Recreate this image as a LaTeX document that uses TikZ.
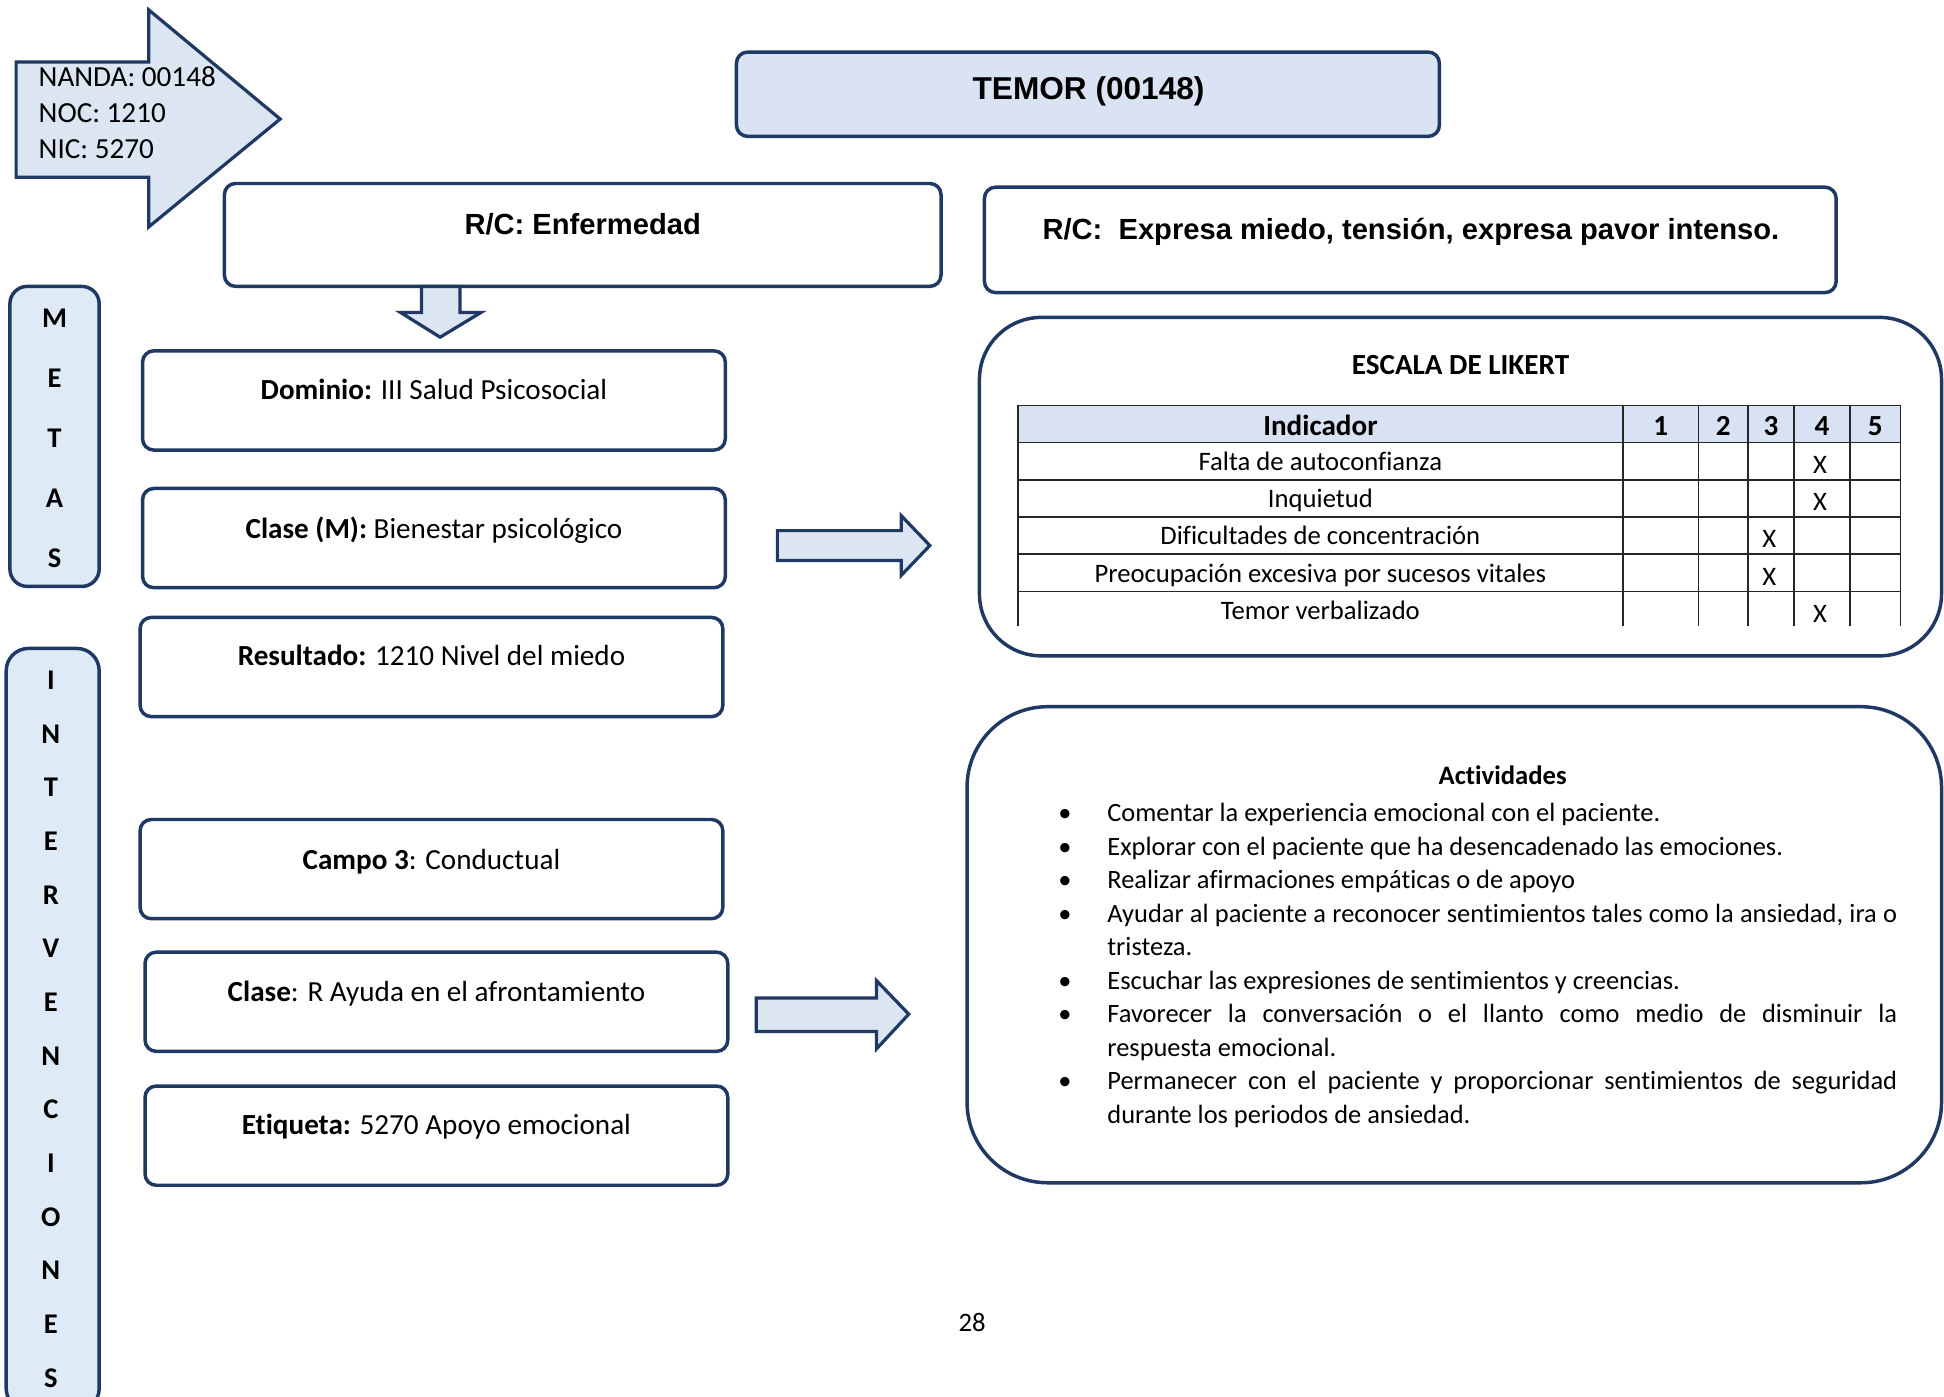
\documentclass[tikz,border=0pt]{standalone}
\usepackage{fontspec}
\setmainfont{Carlito}[Ligatures=CommonOff]
\newfontfamily\arialf{Liberation Sans}
\definecolor{navy}{RGB}{32,56,100}
\definecolor{lblue}{RGB}{218,227,243}
\definecolor{sblue}{RGB}{222,234,246}
\definecolor{ablue}{RGB}{220,230,242}
\definecolor{hblue}{RGB}{217,226,243}
\newcommand{\myitem}{\leavevmode\llap{\textbullet\hspace{29pt}}}
\begin{document}
\begin{tikzpicture}[x=1pt,y=-1pt,
  box/.style={draw=navy, line width=2.8pt, rounded corners=9pt, fill=white, inner sep=0pt},
  bigbox/.style={draw=navy, line width=2.8pt, rounded corners=55pt, fill=white, inner sep=0pt},
  side/.style={draw=navy, line width=2.8pt, rounded corners=14pt, fill=sblue, inner sep=0pt},
  barrow/.style={draw=navy, line width=2.6pt, fill=ablue, line join=miter},
  txt/.style={font=\fontsize{23.5}{28}\selectfont, inner sep=0pt, anchor=base},
  ar/.style={font=\arialf\bfseries\fontsize{23.5}{28}\selectfont, inner sep=0pt, anchor=base},
  vl/.style={font=\bfseries\fontsize{23}{28}\selectfont, inner sep=0pt, anchor=base},
  tb/.style={font=\fontsize{21.5}{26}\selectfont, inner sep=0pt, anchor=base},
  th/.style={font=\bfseries\fontsize{23.5}{28}\selectfont, inner sep=0pt, anchor=base},
  tl/.style={draw=black!85, line width=1.2pt}
]
\useasboundingbox (0,0) rectangle (1568,1126);

% NANDA arrow
\draw[barrow] (13,50) -- (120,50) -- (120,8) -- (226,96) -- (120,183) -- (120,143) -- (13,143) -- cycle;
\node[txt, anchor=base west] (nanda) at (31,70) {NANDA: 00148};
\node[txt, anchor=base west] (noc) at (31,99) {NOC: 1210};
\node[txt, anchor=base west] (nic) at (31,128) {NIC: 5270};

% TEMOR
\node[box, fill=lblue, minimum width=567pt, minimum height=68pt] (temor) at (877.5,76) {};
\node[ar, font=\arialf\bfseries\fontsize{25.5}{30}\selectfont] (temort) at (878,80) {TEMOR (00148)};

% R/C boxes
\node[box, minimum width=578pt, minimum height=83pt] (rce) at (470,189.5) {};
\node[ar] (rcet) at (470,189.5) {R/C: Enfermedad};
\node[box, minimum width=687pt, minimum height=85pt] (rcx) at (1137.5,193.5) {};
\node[ar] (rcxt) at (1138,193.5) {R/C:\ \ Expresa miedo, tensión, expresa pavor intenso.};

% down arrow
\draw[barrow] (340,231) -- (371,231) -- (371,252) -- (388,252) -- (355,272) -- (323,252) -- (340,252) -- cycle;

% side boxes
\node[side, minimum width=72pt, minimum height=242pt] (metas) at (44,352) {};
\foreach \l [count=\i] in {M,E,T,A,S} {
  \pgfmathsetmacro{\yy}{256+48.5*(\i-1)+8}
  \node[vl] (m\i) at (44,\yy) {\l};
}
\node[side, rounded corners=18pt, minimum width=75pt, minimum height=615pt] (interv) at (42.5,830.5) {};
\foreach \l [count=\i] in {I,N,T,E,R,V,E,N,C,I,O,N,E,S} {
  \pgfmathsetmacro{\yy}{548+43.3*(\i-1)+8}
  \node[vl] (n\i) at (41,\yy) {\l};
}

% left boxes
\node[box, minimum width=470pt, minimum height=80pt] (dom) at (350,323) {};
\node[txt] (domt) at (350,322) {\textbf{Dominio:} III Salud Psicosocial};
\node[box, minimum width=470pt, minimum height=80pt] (clm) at (350,434) {};
\node[txt] (clmt) at (350,434) {\textbf{Clase (M):} Bienestar psicológico};
\node[box, minimum width=470pt, minimum height=80pt] (res) at (348,538) {};
\node[txt] (rest) at (348,537) {\textbf{Resultado:} 1210 Nivel del miedo};
\node[box, minimum width=470pt, minimum height=80pt] (cam) at (348,701) {};
\node[txt] (camt) at (348,701) {\textbf{Campo 3}: Conductual};
\node[box, minimum width=470pt, minimum height=80pt] (clr) at (352,808) {};
\node[txt] (clrt) at (352,808) {\textbf{Clase}: R Ayuda en el afrontamiento};
\node[box, minimum width=470pt, minimum height=80pt] (eti) at (352,916) {};
\node[txt] (etit) at (352,915) {\textbf{Etiqueta:} 5270 Apoyo emocional};

% right arrows
\draw[barrow] (627,428) -- (727,428) -- (727,416) -- (750,440) -- (727,464) -- (727,452) -- (627,452) -- cycle;
\draw[barrow] (610,805) -- (707,805) -- (707,791) -- (733,818) -- (707,846) -- (707,832) -- (610,832) -- cycle;

% Likert box
\node[bigbox, rounded corners=50pt, minimum width=776pt, minimum height=273pt] (lik) at (1178,392.5) {};
\node[th] (likt) at (1178,302) {ESCALA DE LIKERT};
\fill[hblue] (821,327) rectangle (1533,357);
\foreach \yy in {327,357,387,417,447,477} { \draw[tl] (821,\yy) -- (1533,\yy); }
\foreach \xx in {821,1309,1370,1410,1447,1492,1533} { \draw[tl] (\xx,327) -- (\xx,505); }
\node[th] (hind) at (1065,351) {Indicador};
\node[th] (h1) at (1339.5,351) {1};
\node[th] (h2) at (1390,351) {2};
\node[th] (h3) at (1428.5,351) {3};
\node[th] (h4) at (1469.5,351) {4};
\node[th] (h5) at (1512.5,351) {5};
\node[tb] (r1) at (1065,379.5) {Falta de autoconfianza};
\node[tb] (r2) at (1065,409.5) {Inquietud};
\node[tb] (r3) at (1065,439.5) {Dificultades de concentración};
\node[tb] (r4) at (1065,469.5) {Preocupación excesiva por sucesos vitales};
\node[tb] (r5) at (1065,499.5) {Temor verbalizado};
\node[tb] (x1) at (1468,382) {X};
\node[tb] (x2) at (1468,412) {X};
\node[tb] (x3) at (1427,442) {X};
\node[tb] (x4) at (1427,472) {X};
\node[tb] (x5) at (1468,502) {X};

% Activities box
\node[bigbox, rounded corners=65pt, minimum width=786pt, minimum height=384pt] (act) at (1173,762) {};
\node[tb, font=\bfseries\fontsize{21.5}{26}\selectfont] (actt) at (1212,633) {Actividades};
\node[inner sep=0pt, anchor=north west, text width=637pt, align=justify,
      font=\fontsize{21.3}{27}\selectfont] (list) at (893,648) {%
\parindent=0pt\parskip=0pt
\myitem Comentar la experiencia emocional con el paciente.\par
\myitem Explorar con el paciente que ha desencadenado las emociones.\par
\myitem Realizar afirmaciones empáticas o de apoyo\par
\myitem Ayudar al paciente a reconocer sentimientos tales como la ansiedad, ira o\linebreak tristeza.\par
\myitem Escuchar las expresiones de sentimientos y creencias.\par
\myitem Favorecer la conversación o el llanto como medio de disminuir la\linebreak respuesta emocional.\par
\myitem Permanecer con el paciente y proporcionar sentimientos de seguridad\linebreak durante los periodos de ansiedad.\par};

% page number
\node[tb] (pg) at (784,1074) {28};
\end{tikzpicture}
\end{document}
